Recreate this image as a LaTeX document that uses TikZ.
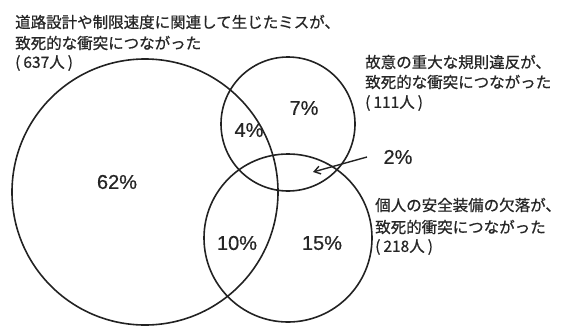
\documentclass[tikz,border=0pt]{standalone}
\usepackage{fontspec}
\setmainfont{Liberation Sans}
\newfontfamily\pctfont{Liberation Sans}[FakeBold=0.6]
\newfontfamily\jpfont{Noto Sans CJK JP}[FakeBold=0.7]
\usetikzlibrary{arrows.meta}
\definecolor{ink}{HTML}{262626}
\definecolor{linec}{HTML}{222222}
\tikzset{
  jptext/.style={anchor=west, inner sep=0pt, text=ink, font=\jpfont\fontsize{15.5pt}{18pt}\selectfont},
  pct/.style={inner sep=0pt, text=ink, font=\pctfont\fontsize{20pt}{24pt}\selectfont},
  setc/.style={circle, draw=linec, line width=1.6pt, inner sep=0pt},
}
\begin{document}
\begin{tikzpicture}[x=1pt,y=-1pt]
\useasboundingbox (0,0) rectangle (569,327);
% circles
\node[setc, minimum size=266pt] (A) at (145,192) {};
\node[setc, minimum size=134pt] (B) at (288,124) {};
\node[setc, minimum size=168pt] (C) at (288,238) {};
% top-left label
\node[jptext] (a1) at (15,22) {道路設計や制限速度に関連して生じたミスが、};
\node[jptext] (a2) at (15,43) {致死的な衝突につながった};
\node[jptext] (a3) at (15,63) {(\hspace{3pt}637人\hspace{3pt})};
% top-right label
\node[jptext] (b1) at (365,62) {故意の重大な規則違反が、};
\node[jptext] (b2) at (365,82) {致死的な衝突につながった};
\node[jptext] (b3) at (365,103) {(\hspace{3pt}111人\hspace{3pt})};
% bottom-right label
\node[jptext] (c1) at (375,205) {個人の安全装備の欠落が、};
\node[jptext] (c2) at (375,227) {致死的衝突につながった};
\node[jptext] (c3) at (375,247) {(\hspace{3pt}218人\hspace{3pt})};
% percentages
\node[pct] (p62) at (117,182) {62\%};
\node[pct] (p4) at (249,130) {4\%};
\node[pct] (p7) at (304,108) {7\%};
\node[pct] (p10) at (237,243) {10\%};
\node[pct] (p15) at (322,243) {15\%};
\node[pct] (p2) at (398,157) {2\%};
% arrow
\coordinate (arrS) at (367,157);
\coordinate (arrT) at (313,172);
\draw[linec, line width=1.4pt, -{Straight Barb[length=6pt,width=8pt]}] (arrS) -- (arrT);
\end{tikzpicture}
\end{document}
